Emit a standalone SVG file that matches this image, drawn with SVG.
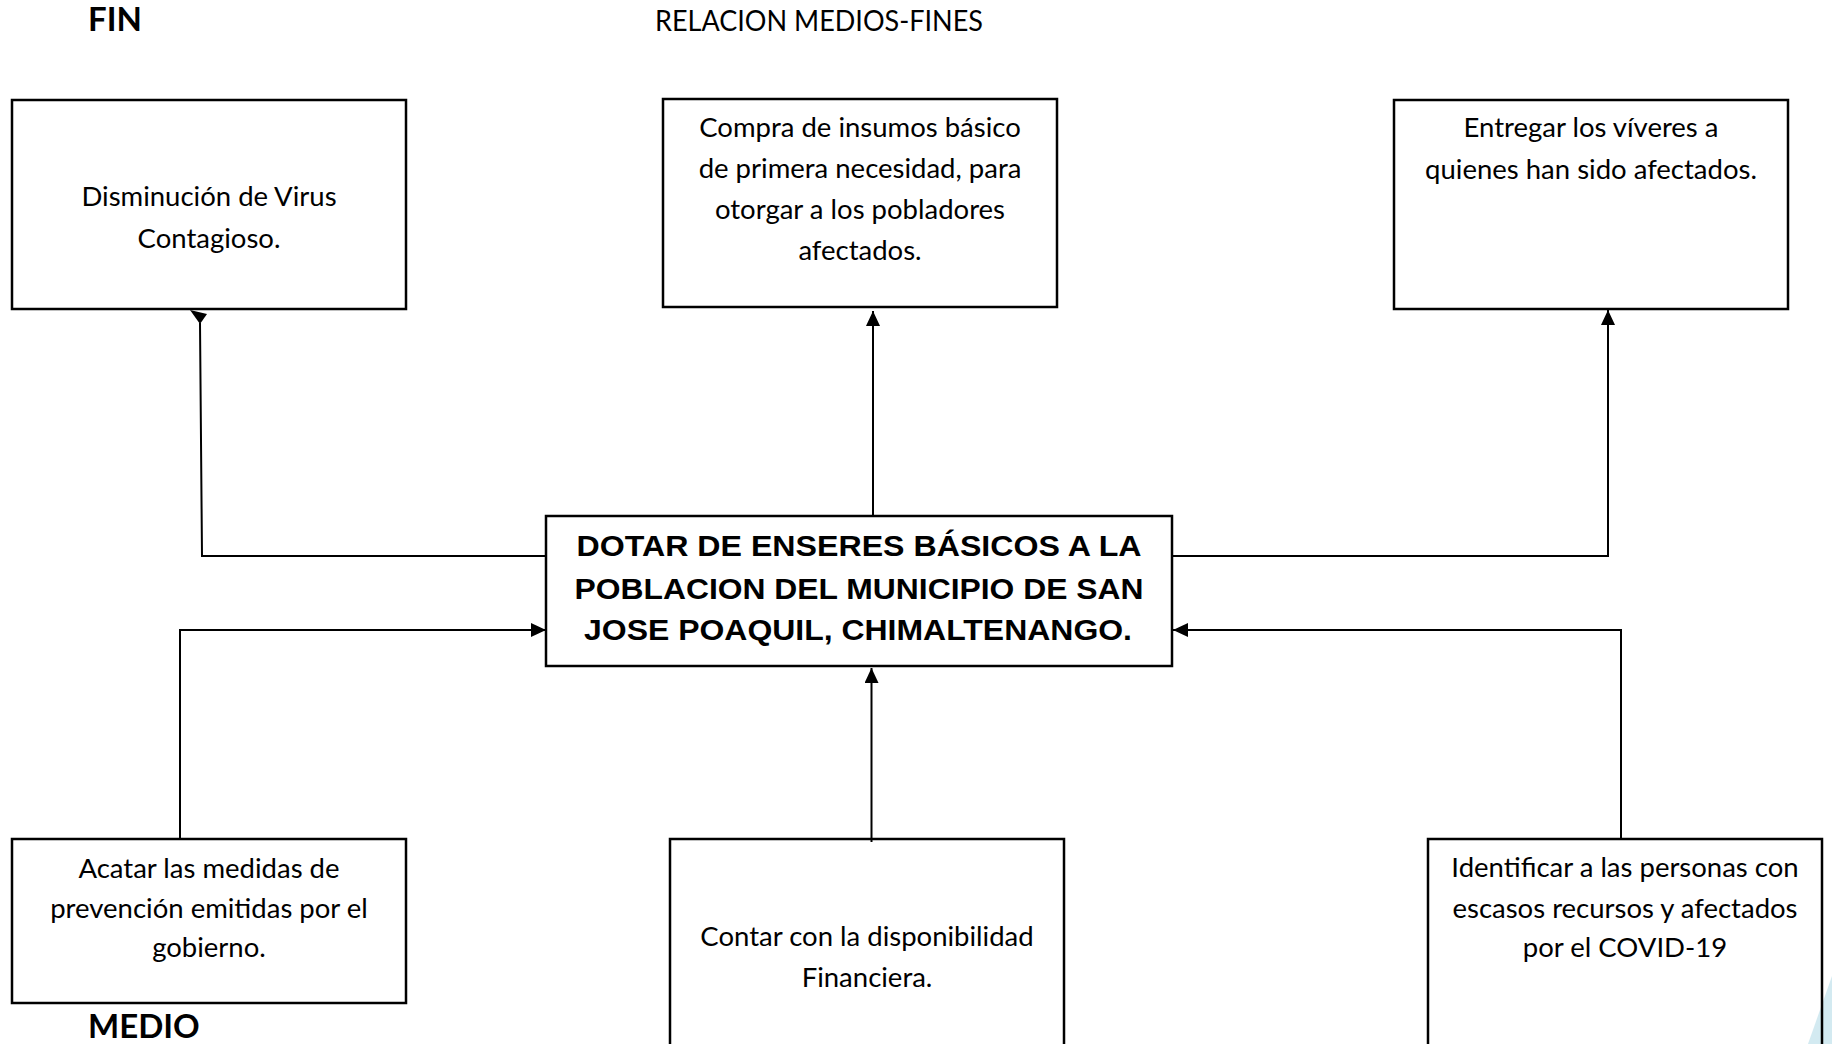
<svg xmlns="http://www.w3.org/2000/svg" width="1832" height="1044" viewBox="0 0 1832 1044">
<style>
.box{fill:none;stroke:#000;stroke-width:2.5}
.t{font-family:Lato,"Liberation Sans",sans-serif;font-size:27.5px;fill:#000;text-anchor:middle}
.h{font-family:Lato,"Liberation Sans",sans-serif;font-size:33px;font-weight:bold;fill:#000}
.ti{font-family:Lato,"Liberation Sans",sans-serif;font-size:28.5px;fill:#000;text-anchor:middle}
.c{font-family:"Liberation Sans",Arial,sans-serif;font-size:29px;font-weight:bold;fill:#000;text-anchor:middle}
.ln{fill:none;stroke:#000;stroke-width:2}
.ah{fill:#000}
</style>
<defs>
<marker id="arr" viewBox="0 0 15 14" refX="15" refY="7" markerWidth="15" markerHeight="14" orient="auto" markerUnits="userSpaceOnUse">
<path d="M0,0 L15,7 L0,14 z" class="ah"/>
</marker>
</defs>
<rect x="0" y="0" width="1832" height="1044" fill="#fff"/>
<polygon points="1832,976 1832,1044 1808,1044" fill="#d3eaf1"/>

<g id="labels">
<text class="h" x="88" y="31">FIN</text>
<text class="ti" x="819" y="31" textLength="328" lengthAdjust="spacingAndGlyphs">RELACION MEDIOS-FINES</text>
<text class="h" x="88" y="1038">MEDIO</text>
</g>

<g id="connectors">
<polyline class="ln" points="546,556 202,556 200,323"/>
<polygon class="ah" points="190,310 207,314 200,324"/>
<line class="ln" x1="873" y1="516" x2="873" y2="311" marker-end="url(#arr)"/>
<polyline class="ln" points="1172,556 1608,556 1608,310" marker-end="url(#arr)"/>
<polyline class="ln" points="180,839 180,630 546,630" marker-end="url(#arr)"/>
<line class="ln" x1="871.5" y1="842" x2="871.5" y2="668" marker-end="url(#arr)"/>
<polyline class="ln" points="1621,839 1621,630 1173,630" marker-end="url(#arr)"/>
</g>

<g id="n-disminucion">
<rect class="box" x="12" y="100" width="394" height="209"/>
<text class="t" x="209" y="206">Disminución de Virus</text>
<text class="t" x="209" y="248">Contagioso.</text>
</g>

<g id="n-compra">
<rect class="box" x="663" y="99" width="394" height="208"/>
<text class="t" x="860" y="137">Compra de insumos básico</text>
<text class="t" x="860" y="178">de primera necesidad, para</text>
<text class="t" x="860" y="219">otorgar a los pobladores</text>
<text class="t" x="860" y="260">afectados.</text>
</g>

<g id="n-entregar">
<rect class="box" x="1394" y="100" width="394" height="209"/>
<text class="t" x="1591" y="137">Entregar los víveres a</text>
<text class="t" x="1591" y="179">quienes han sido afectados.</text>
</g>

<g id="n-central">
<rect class="box" x="546" y="516" width="626" height="150"/>
<text class="c" x="859" y="556" textLength="565" lengthAdjust="spacingAndGlyphs">DOTAR DE ENSERES BÁSICOS A LA</text>
<text class="c" x="859" y="599" textLength="569" lengthAdjust="spacingAndGlyphs">POBLACION DEL MUNICIPIO DE SAN</text>
<text class="c" x="858" y="640" textLength="548" lengthAdjust="spacingAndGlyphs">JOSE POAQUIL, CHIMALTENANGO.</text>
</g>

<g id="n-acatar">
<rect class="box" x="12" y="839" width="394" height="164"/>
<text class="t" x="209" y="878">Acatar las medidas de</text>
<text class="t" x="209" y="918">prevención emitidas por el</text>
<text class="t" x="209" y="957">gobierno.</text>
</g>

<g id="n-contar">
<rect class="box" x="670" y="839" width="394" height="220"/>
<text class="t" x="867" y="946">Contar con la disponibilidad</text>
<text class="t" x="867" y="987">Financiera.</text>
</g>

<g id="n-identificar">
<rect class="box" x="1428" y="839" width="394" height="220"/>
<text class="t" x="1625" y="877">Identificar a las personas con</text>
<text class="t" x="1625" y="918">escasos recursos y afectados</text>
<text class="t" x="1625" y="957">por el COVID-19</text>
</g>
</svg>
